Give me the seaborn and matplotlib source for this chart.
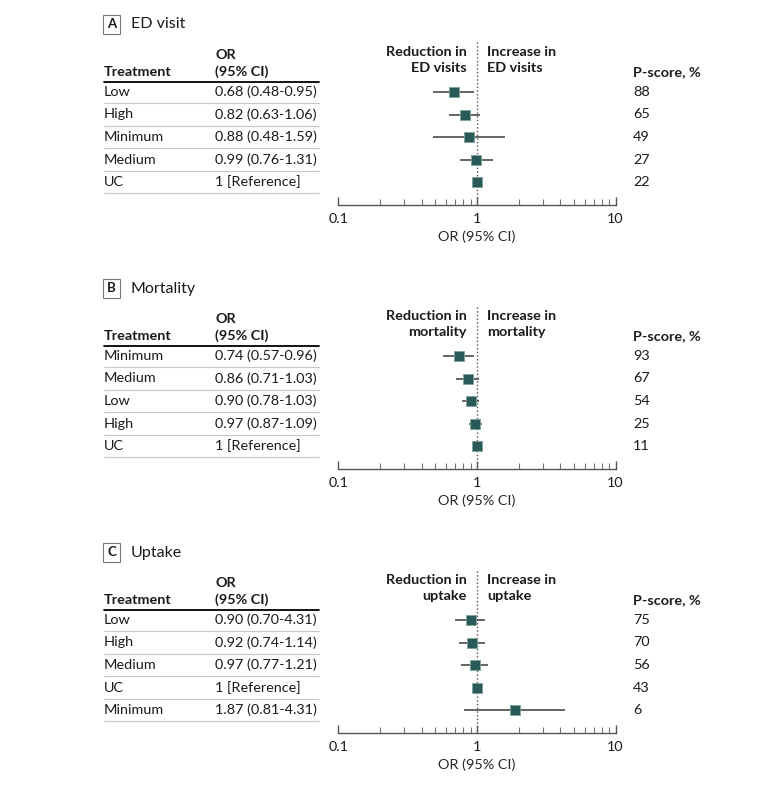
import matplotlib
matplotlib.use("Agg")
from matplotlib import pyplot as plt
from matplotlib.transforms import blended_transform_factory
import matplotlib.ticker as mtick
import pandas as pd
import seaborn as sns

# panel data
panel_letters = ["A", "B", "C"]
panel_titles = ["ED visit", "Mortality", "Uptake"]
effect_names = ["ED visits", "mortality", "uptake"]

ed_treat = ["Low", "High", "Minimum", "Medium", "UC"]
ed_or = [0.68, 0.82, 0.88, 0.99, 1.0]
ed_lo = [0.48, 0.63, 0.48, 0.76, None]
ed_hi = [0.95, 1.06, 1.59, 1.31, None]
ed_text = ["0.68 (0.48-0.95)", "0.82 (0.63-1.06)", "0.88 (0.48-1.59)", "0.99 (0.76-1.31)", "1 [Reference]"]
ed_p = [88, 65, 49, 27, 22]

mort_treat = ["Minimum", "Medium", "Low", "High", "UC"]
mort_or = [0.74, 0.86, 0.90, 0.97, 1.0]
mort_lo = [0.57, 0.71, 0.78, 0.87, None]
mort_hi = [0.96, 1.03, 1.03, 1.09, None]
mort_text = ["0.74 (0.57-0.96)", "0.86 (0.71-1.03)", "0.90 (0.78-1.03)", "0.97 (0.87-1.09)", "1 [Reference]"]
mort_p = [93, 67, 54, 25, 11]

up_treat = ["Low", "High", "Medium", "UC", "Minimum"]
up_or = [0.90, 0.92, 0.97, 1.0, 1.87]
up_lo = [0.70, 0.74, 0.77, None, 0.81]
up_hi = [1.15, 1.14, 1.21, None, 4.31]
up_text = ["0.90 (0.70-4.31)", "0.92 (0.74-1.14)", "0.97 (0.77-1.21)", "1 [Reference]", "1.87 (0.81-4.31)"]
up_p = [75, 70, 56, 43, 6]

panels = [
    (ed_treat, ed_or, ed_lo, ed_hi, ed_text, ed_p),
    (mort_treat, mort_or, mort_lo, mort_hi, mort_text, mort_p),
    (up_treat, up_or, up_lo, up_hi, up_text, up_p),
]

sns.set_style("white")
plt.rcParams["font.family"] = ["Lato", "DejaVu Sans"]
plt.rcParams["text.color"] = "#1a1a1a"

W, H = 780, 789
fig = plt.figure(figsize=(W / 100, H / 100), dpi=100)

def fx(x):
    return x / W

def fy(y):
    return 1 - y / H

marker_col = "#2a5a57"
row_h = 22.5
fs = 10.4

for k, (treat, ors, lo, hi, txt, pscore) in enumerate(panels):
    o = 264 * k
    top, bot = 81.5 + o, 205 + o
    ax = fig.add_axes([fx(338.3), fy(bot), fx(615.5) - fx(338.3), (bot - top) / H])
    y0 = -(92 - 81.5) / row_h
    ax.set_ylim(y0 + (bot - top) / row_h, y0)

    df = pd.DataFrame({"row": range(len(treat)), "OR": ors, "lo": lo, "hi": hi})
    ci = df.dropna()
    ax.hlines(ci["row"], ci["lo"], ci["hi"], color="#4a4a4a", lw=1.2, zorder=2)
    ax.plot([1, 1], [-2.2, ax.get_ylim()[0]], ls=":", color="#555555", lw=1.0, clip_on=False, zorder=1)
    sns.scatterplot(data=df, x="OR", y="row", marker="s", s=45, color=marker_col,
                    edgecolor="#7fa39f", linewidth=0.6, ax=ax, zorder=3, legend=False)

    ax.set_xscale("log")
    ax.set_xlim(0.1, 10)
    ax.xaxis.set_major_locator(mtick.FixedLocator([0.1, 1, 10]))
    ax.xaxis.set_major_formatter(mtick.FixedFormatter(["0.1", "1", "10"]))
    ax.xaxis.set_minor_locator(mtick.LogLocator(base=10, subs=range(2, 10)))
    ax.xaxis.set_minor_formatter(mtick.NullFormatter())
    ax.tick_params(axis="x", which="major", direction="in", length=6, width=1, color="#555555",
                   labelsize=fs, pad=6, bottom=True, labelcolor="#1a1a1a")
    ax.tick_params(axis="x", which="minor", direction="in", length=4, width=0.8, color="#777777", bottom=True)
    ax.set_yticks([])
    ax.set_ylabel("")
    ax.set_xlabel("OR (95% CI)", fontsize=fs, labelpad=4)
    for s in ["top", "left", "right"]:
        ax.spines[s].set_visible(False)
    ax.spines["bottom"].set_color("#555555")
    ax.spines["bottom"].set_linewidth(1.0)

    tr = blended_transform_factory(fig.transFigure, ax.transData)
    # table rows
    for i in range(len(treat)):
        ax.text(fx(104), i, treat[i], transform=tr, fontsize=fs, va="center", ha="left")
        ax.text(fx(215), i, txt[i], transform=tr, fontsize=fs, va="center", ha="left")
        ax.text(fx(633), i, str(pscore[i]), transform=tr, fontsize=fs, va="center", ha="left")
        ax.plot([fx(104), fx(319)], [i + 0.5, i + 0.5], transform=tr, color="#c8c8c8", lw=0.8, clip_on=False)
    ax.plot([fx(104), fx(319)], [y0, y0], transform=tr, color="black", lw=1.3, clip_on=False)

    # headers
    yh2 = (72 - 92) / row_h
    yh1 = (55 - 92) / row_h
    ax.text(fx(104), yh2, "Treatment", transform=tr, fontsize=fs, va="center", ha="left", fontweight="bold")
    ax.text(fx(215), yh1, "OR", transform=tr, fontsize=fs, va="center", ha="left", fontweight="bold")
    ax.text(fx(215), yh2, "(95% CI)", transform=tr, fontsize=fs, va="center", ha="left", fontweight="bold")
    ax.text(fx(633), yh2, "P-score, %", transform=tr, fontsize=fs, va="center", ha="left", fontweight="bold")
    ya = (52 - 92) / row_h
    yb = (68.5 - 92) / row_h
    ax.text(fx(467), ya, "Reduction in", transform=tr, fontsize=fs, va="center", ha="right", fontweight="bold")
    ax.text(fx(467), yb, effect_names[k], transform=tr, fontsize=fs, va="center", ha="right", fontweight="bold")
    ax.text(fx(487), ya, "Increase in", transform=tr, fontsize=fs, va="center", ha="left", fontweight="bold")
    ax.text(fx(487), yb, effect_names[k], transform=tr, fontsize=fs, va="center", ha="left", fontweight="bold")

    # panel title
    fig.text(fx(111.5), fy(24.5 + o), panel_letters[k], fontsize=9.5, fontweight="bold", ha="center", va="center",
             bbox=dict(boxstyle="square,pad=0.3", fc="white", ec="#777777", lw=0.8))
    fig.text(fx(131), fy(24.5 + o), panel_titles[k], fontsize=11.5, ha="left", va="center")

fig.savefig("out.png", dpi=100)
